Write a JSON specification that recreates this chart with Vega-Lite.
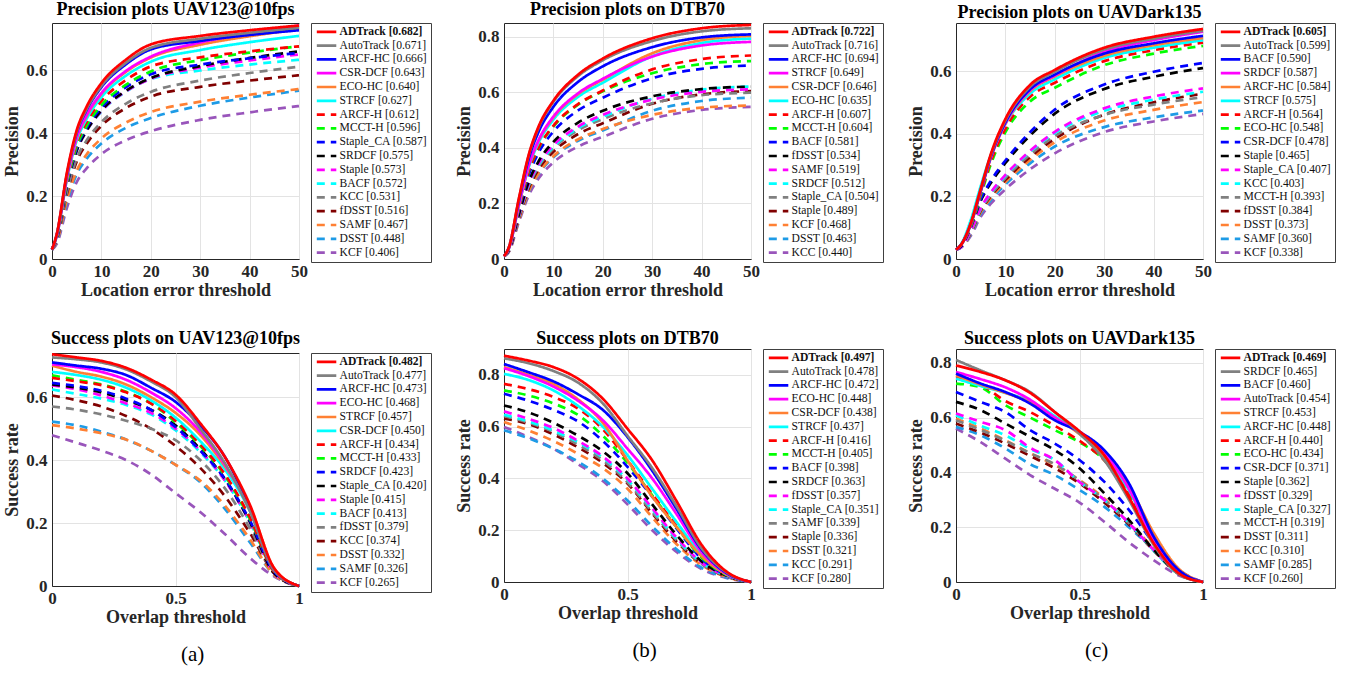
{
"$schema":"https://vega.github.io/schema/vega-lite/v6.json",
"background":"white",
"padding":{"left":3,"top":0,"right":2,"bottom":2},
"datasets":{
"n1":[{"k":1,"n":"ADTrack [0.682]"},{"k":2,"n":"AutoTrack [0.671]"},{"k":3,"n":"ARCF-HC [0.666]"},{"k":4,"n":"CSR-DCF [0.643]"},{"k":5,"n":"ECO-HC [0.640]"},{"k":6,"n":"STRCF [0.627]"},{"k":7,"n":"ARCF-H [0.612]"},{"k":8,"n":"MCCT-H [0.596]"},{"k":9,"n":"Staple_CA [0.587]"},{"k":10,"n":"SRDCF [0.575]"},{"k":11,"n":"Staple [0.573]"},{"k":12,"n":"BACF [0.572]"},{"k":13,"n":"KCC [0.531]"},{"k":14,"n":"fDSST [0.516]"},{"k":15,"n":"SAMF [0.467]"},{"k":16,"n":"DSST [0.448]"},{"k":17,"n":"KCF [0.406]"}],
"n2":[{"k":1,"n":"ADTrack [0.722]"},{"k":2,"n":"AutoTrack [0.716]"},{"k":3,"n":"ARCF-HC [0.694]"},{"k":4,"n":"STRCF [0.649]"},{"k":5,"n":"CSR-DCF [0.646]"},{"k":6,"n":"ECO-HC [0.635]"},{"k":7,"n":"ARCF-H [0.607]"},{"k":8,"n":"MCCT-H [0.604]"},{"k":9,"n":"BACF [0.581]"},{"k":10,"n":"fDSST [0.534]"},{"k":11,"n":"SAMF [0.519]"},{"k":12,"n":"SRDCF [0.512]"},{"k":13,"n":"Staple_CA [0.504]"},{"k":14,"n":"Staple [0.489]"},{"k":15,"n":"KCF [0.468]"},{"k":16,"n":"DSST [0.463]"},{"k":17,"n":"KCC [0.440]"}],
"n3":[{"k":1,"n":"ADTrack [0.605]"},{"k":2,"n":"AutoTrack [0.599]"},{"k":3,"n":"BACF [0.590]"},{"k":4,"n":"SRDCF [0.587]"},{"k":5,"n":"ARCF-HC [0.584]"},{"k":6,"n":"STRCF [0.575]"},{"k":7,"n":"ARCF-H [0.564]"},{"k":8,"n":"ECO-HC [0.548]"},{"k":9,"n":"CSR-DCF [0.478]"},{"k":10,"n":"Staple [0.465]"},{"k":11,"n":"Staple_CA [0.407]"},{"k":12,"n":"KCC [0.403]"},{"k":13,"n":"MCCT-H [0.393]"},{"k":14,"n":"fDSST [0.384]"},{"k":15,"n":"DSST [0.373]"},{"k":16,"n":"SAMF [0.360]"},{"k":17,"n":"KCF [0.338]"}],
"n4":[{"k":1,"n":"ADTrack [0.482]"},{"k":2,"n":"AutoTrack [0.477]"},{"k":3,"n":"ARCF-HC [0.473]"},{"k":4,"n":"ECO-HC [0.468]"},{"k":5,"n":"STRCF [0.457]"},{"k":6,"n":"CSR-DCF [0.450]"},{"k":7,"n":"ARCF-H [0.434]"},{"k":8,"n":"MCCT-H [0.433]"},{"k":9,"n":"SRDCF [0.423]"},{"k":10,"n":"Staple_CA [0.420]"},{"k":11,"n":"Staple [0.415]"},{"k":12,"n":"BACF [0.413]"},{"k":13,"n":"fDSST [0.379]"},{"k":14,"n":"KCC [0.374]"},{"k":15,"n":"DSST [0.332]"},{"k":16,"n":"SAMF [0.326]"},{"k":17,"n":"KCF [0.265]"}],
"n5":[{"k":1,"n":"ADTrack [0.497]"},{"k":2,"n":"AutoTrack [0.478]"},{"k":3,"n":"ARCF-HC [0.472]"},{"k":4,"n":"ECO-HC [0.448]"},{"k":5,"n":"CSR-DCF [0.438]"},{"k":6,"n":"STRCF [0.437]"},{"k":7,"n":"ARCF-H [0.416]"},{"k":8,"n":"MCCT-H [0.405]"},{"k":9,"n":"BACF [0.398]"},{"k":10,"n":"SRDCF [0.363]"},{"k":11,"n":"fDSST [0.357]"},{"k":12,"n":"Staple_CA [0.351]"},{"k":13,"n":"SAMF [0.339]"},{"k":14,"n":"Staple [0.336]"},{"k":15,"n":"DSST [0.321]"},{"k":16,"n":"KCC [0.291]"},{"k":17,"n":"KCF [0.280]"}],
"n6":[{"k":1,"n":"ADTrack [0.469]"},{"k":2,"n":"SRDCF [0.465]"},{"k":3,"n":"BACF [0.460]"},{"k":4,"n":"AutoTrack [0.454]"},{"k":5,"n":"STRCF [0.453]"},{"k":6,"n":"ARCF-HC [0.448]"},{"k":7,"n":"ARCF-H [0.440]"},{"k":8,"n":"ECO-HC [0.434]"},{"k":9,"n":"CSR-DCF [0.371]"},{"k":10,"n":"Staple [0.362]"},{"k":11,"n":"fDSST [0.329]"},{"k":12,"n":"Staple_CA [0.327]"},{"k":13,"n":"MCCT-H [0.319]"},{"k":14,"n":"DSST [0.311]"},{"k":15,"n":"KCC [0.310]"},{"k":16,"n":"SAMF [0.285]"},{"k":17,"n":"KCF [0.260]"}],
"d1":[
{"k":17,"x":0,"y":0.03},{"k":17,"x":1,"y":0.049},{"k":17,"x":3,"y":0.162},{"k":17,"x":5,"y":0.244},{"k":17,"x":7,"y":0.288},{"k":17,"x":10,"y":0.333},{"k":17,"x":15,"y":0.378},{"k":17,"x":20,"y":0.406},{"k":17,"x":30,"y":0.442},{"k":17,"x":40,"y":0.466},{"k":17,"x":50,"y":0.486},
{"k":16,"x":0,"y":0.03},{"k":16,"x":1,"y":0.054},{"k":16,"x":3,"y":0.179},{"k":16,"x":5,"y":0.269},{"k":16,"x":7,"y":0.318},{"k":16,"x":10,"y":0.367},{"k":16,"x":15,"y":0.417},{"k":16,"x":20,"y":0.448},{"k":16,"x":30,"y":0.487},{"k":16,"x":40,"y":0.513},{"k":16,"x":50,"y":0.535},
{"k":15,"x":0,"y":0.03},{"k":15,"x":1,"y":0.056},{"k":15,"x":3,"y":0.187},{"k":15,"x":5,"y":0.28},{"k":15,"x":7,"y":0.332},{"k":15,"x":10,"y":0.383},{"k":15,"x":15,"y":0.434},{"k":15,"x":20,"y":0.467},{"k":15,"x":30,"y":0.5},{"k":15,"x":40,"y":0.522},{"k":15,"x":50,"y":0.54},
{"k":14,"x":0,"y":0.03},{"k":14,"x":1,"y":0.062},{"k":14,"x":3,"y":0.206},{"k":14,"x":5,"y":0.31},{"k":14,"x":7,"y":0.366},{"k":14,"x":10,"y":0.423},{"k":14,"x":15,"y":0.48},{"k":14,"x":20,"y":0.516},{"k":14,"x":30,"y":0.547},{"k":14,"x":40,"y":0.567},{"k":14,"x":50,"y":0.584},
{"k":13,"x":0,"y":0.03},{"k":13,"x":1,"y":0.064},{"k":13,"x":3,"y":0.212},{"k":13,"x":5,"y":0.319},{"k":13,"x":7,"y":0.377},{"k":13,"x":10,"y":0.435},{"k":13,"x":15,"y":0.494},{"k":13,"x":20,"y":0.531},{"k":13,"x":30,"y":0.567},{"k":13,"x":40,"y":0.591},{"k":13,"x":50,"y":0.611},
{"k":12,"x":0,"y":0.03},{"k":12,"x":1,"y":0.069},{"k":12,"x":3,"y":0.229},{"k":12,"x":5,"y":0.343},{"k":12,"x":7,"y":0.406},{"k":12,"x":10,"y":0.469},{"k":12,"x":15,"y":0.532},{"k":12,"x":20,"y":0.572},{"k":12,"x":30,"y":0.599},{"k":12,"x":40,"y":0.618},{"k":12,"x":50,"y":0.633},
{"k":11,"x":0,"y":0.03},{"k":11,"x":1,"y":0.069},{"k":11,"x":3,"y":0.229},{"k":11,"x":5,"y":0.344},{"k":11,"x":7,"y":0.407},{"k":11,"x":10,"y":0.47},{"k":11,"x":15,"y":0.533},{"k":11,"x":20,"y":0.573},{"k":11,"x":30,"y":0.608},{"k":11,"x":40,"y":0.631},{"k":11,"x":50,"y":0.65},
{"k":10,"x":0,"y":0.03},{"k":10,"x":1,"y":0.069},{"k":10,"x":3,"y":0.23},{"k":10,"x":5,"y":0.345},{"k":10,"x":7,"y":0.408},{"k":10,"x":10,"y":0.472},{"k":10,"x":15,"y":0.535},{"k":10,"x":20,"y":0.575},{"k":10,"x":30,"y":0.613},{"k":10,"x":40,"y":0.639},{"k":10,"x":50,"y":0.66},
{"k":9,"x":0,"y":0.03},{"k":9,"x":1,"y":0.07},{"k":9,"x":3,"y":0.235},{"k":9,"x":5,"y":0.352},{"k":9,"x":7,"y":0.417},{"k":9,"x":10,"y":0.481},{"k":9,"x":15,"y":0.546},{"k":9,"x":20,"y":0.587},{"k":9,"x":30,"y":0.618},{"k":9,"x":40,"y":0.638},{"k":9,"x":50,"y":0.655},
{"k":8,"x":0,"y":0.03},{"k":8,"x":1,"y":0.072},{"k":8,"x":3,"y":0.238},{"k":8,"x":5,"y":0.358},{"k":8,"x":7,"y":0.423},{"k":8,"x":10,"y":0.489},{"k":8,"x":15,"y":0.554},{"k":8,"x":20,"y":0.596},{"k":8,"x":30,"y":0.632},{"k":8,"x":40,"y":0.656},{"k":8,"x":50,"y":0.676},
{"k":7,"x":0,"y":0.03},{"k":7,"x":1,"y":0.073},{"k":7,"x":3,"y":0.245},{"k":7,"x":5,"y":0.367},{"k":7,"x":7,"y":0.435},{"k":7,"x":10,"y":0.502},{"k":7,"x":15,"y":0.569},{"k":7,"x":20,"y":0.612},{"k":7,"x":30,"y":0.641},{"k":7,"x":40,"y":0.66},{"k":7,"x":50,"y":0.676},
{"k":6,"x":0,"y":0.03},{"k":6,"x":1,"y":0.075},{"k":6,"x":3,"y":0.251},{"k":6,"x":5,"y":0.376},{"k":6,"x":7,"y":0.445},{"k":6,"x":10,"y":0.514},{"k":6,"x":15,"y":0.583},{"k":6,"x":20,"y":0.627},{"k":6,"x":30,"y":0.664},{"k":6,"x":40,"y":0.689},{"k":6,"x":50,"y":0.709},
{"k":5,"x":0,"y":0.03},{"k":5,"x":1,"y":0.077},{"k":5,"x":3,"y":0.256},{"k":5,"x":5,"y":0.384},{"k":5,"x":7,"y":0.454},{"k":5,"x":10,"y":0.525},{"k":5,"x":15,"y":0.595},{"k":5,"x":20,"y":0.64},{"k":5,"x":30,"y":0.681},{"k":5,"x":40,"y":0.708},{"k":5,"x":50,"y":0.73},
{"k":4,"x":0,"y":0.03},{"k":4,"x":1,"y":0.077},{"k":4,"x":3,"y":0.257},{"k":4,"x":5,"y":0.386},{"k":4,"x":7,"y":0.457},{"k":4,"x":10,"y":0.527},{"k":4,"x":15,"y":0.598},{"k":4,"x":20,"y":0.643},{"k":4,"x":30,"y":0.688},{"k":4,"x":40,"y":0.717},{"k":4,"x":50,"y":0.742},
{"k":3,"x":0,"y":0.03},{"k":3,"x":1,"y":0.08},{"k":3,"x":3,"y":0.266},{"k":3,"x":5,"y":0.4},{"k":3,"x":7,"y":0.473},{"k":3,"x":10,"y":0.546},{"k":3,"x":15,"y":0.619},{"k":3,"x":20,"y":0.666},{"k":3,"x":30,"y":0.693},{"k":3,"x":40,"y":0.712},{"k":3,"x":50,"y":0.727},
{"k":2,"x":0,"y":0.03},{"k":2,"x":1,"y":0.081},{"k":2,"x":3,"y":0.268},{"k":2,"x":5,"y":0.403},{"k":2,"x":7,"y":0.476},{"k":2,"x":10,"y":0.55},{"k":2,"x":15,"y":0.624},{"k":2,"x":20,"y":0.671},{"k":2,"x":30,"y":0.7},{"k":2,"x":40,"y":0.719},{"k":2,"x":50,"y":0.735},
{"k":1,"x":0,"y":0.03},{"k":1,"x":1,"y":0.082},{"k":1,"x":3,"y":0.273},{"k":1,"x":5,"y":0.409},{"k":1,"x":7,"y":0.484},{"k":1,"x":10,"y":0.559},{"k":1,"x":15,"y":0.634},{"k":1,"x":20,"y":0.682},{"k":1,"x":30,"y":0.709},{"k":1,"x":40,"y":0.727},{"k":1,"x":50,"y":0.742}
],
"d2":[
{"k":17,"x":0,"y":0.01},{"k":17,"x":1,"y":0.026},{"k":17,"x":3,"y":0.132},{"k":17,"x":5,"y":0.229},{"k":17,"x":7,"y":0.29},{"k":17,"x":10,"y":0.348},{"k":17,"x":15,"y":0.405},{"k":17,"x":20,"y":0.44},{"k":17,"x":30,"y":0.505},{"k":17,"x":40,"y":0.537},{"k":17,"x":50,"y":0.548},
{"k":16,"x":0,"y":0.01},{"k":16,"x":1,"y":0.028},{"k":16,"x":3,"y":0.139},{"k":16,"x":5,"y":0.241},{"k":16,"x":7,"y":0.306},{"k":16,"x":10,"y":0.366},{"k":16,"x":15,"y":0.426},{"k":16,"x":20,"y":0.463},{"k":16,"x":30,"y":0.534},{"k":16,"x":40,"y":0.569},{"k":16,"x":50,"y":0.581},
{"k":15,"x":0,"y":0.01},{"k":15,"x":1,"y":0.028},{"k":15,"x":3,"y":0.14},{"k":15,"x":5,"y":0.243},{"k":15,"x":7,"y":0.309},{"k":15,"x":10,"y":0.37},{"k":15,"x":15,"y":0.431},{"k":15,"x":20,"y":0.468},{"k":15,"x":30,"y":0.519},{"k":15,"x":40,"y":0.545},{"k":15,"x":50,"y":0.553},
{"k":14,"x":0,"y":0.01},{"k":14,"x":1,"y":0.029},{"k":14,"x":3,"y":0.147},{"k":14,"x":5,"y":0.254},{"k":14,"x":7,"y":0.323},{"k":14,"x":10,"y":0.386},{"k":14,"x":15,"y":0.45},{"k":14,"x":20,"y":0.489},{"k":14,"x":30,"y":0.559},{"k":14,"x":40,"y":0.593},{"k":14,"x":50,"y":0.605},
{"k":13,"x":0,"y":0.01},{"k":13,"x":1,"y":0.03},{"k":13,"x":3,"y":0.151},{"k":13,"x":5,"y":0.262},{"k":13,"x":7,"y":0.333},{"k":13,"x":10,"y":0.398},{"k":13,"x":15,"y":0.464},{"k":13,"x":20,"y":0.504},{"k":13,"x":30,"y":0.561},{"k":13,"x":40,"y":0.59},{"k":13,"x":50,"y":0.599},
{"k":12,"x":0,"y":0.01},{"k":12,"x":1,"y":0.031},{"k":12,"x":3,"y":0.154},{"k":12,"x":5,"y":0.266},{"k":12,"x":7,"y":0.338},{"k":12,"x":10,"y":0.404},{"k":12,"x":15,"y":0.471},{"k":12,"x":20,"y":0.512},{"k":12,"x":30,"y":0.577},{"k":12,"x":40,"y":0.61},{"k":12,"x":50,"y":0.621},
{"k":11,"x":0,"y":0.01},{"k":11,"x":1,"y":0.031},{"k":11,"x":3,"y":0.156},{"k":11,"x":5,"y":0.27},{"k":11,"x":7,"y":0.343},{"k":11,"x":10,"y":0.41},{"k":11,"x":15,"y":0.477},{"k":11,"x":20,"y":0.519},{"k":11,"x":30,"y":0.574},{"k":11,"x":40,"y":0.602},{"k":11,"x":50,"y":0.611},
{"k":10,"x":0,"y":0.01},{"k":10,"x":1,"y":0.032},{"k":10,"x":3,"y":0.16},{"k":10,"x":5,"y":0.278},{"k":10,"x":7,"y":0.352},{"k":10,"x":10,"y":0.422},{"k":10,"x":15,"y":0.491},{"k":10,"x":20,"y":0.534},{"k":10,"x":30,"y":0.586},{"k":10,"x":40,"y":0.612},{"k":10,"x":50,"y":0.621},
{"k":9,"x":0,"y":0.01},{"k":9,"x":1,"y":0.035},{"k":9,"x":3,"y":0.174},{"k":9,"x":5,"y":0.302},{"k":9,"x":7,"y":0.383},{"k":9,"x":10,"y":0.459},{"k":9,"x":15,"y":0.535},{"k":9,"x":20,"y":0.581},{"k":9,"x":30,"y":0.651},{"k":9,"x":40,"y":0.685},{"k":9,"x":50,"y":0.697},
{"k":8,"x":0,"y":0.01},{"k":8,"x":1,"y":0.036},{"k":8,"x":3,"y":0.181},{"k":8,"x":5,"y":0.314},{"k":8,"x":7,"y":0.399},{"k":8,"x":10,"y":0.477},{"k":8,"x":15,"y":0.556},{"k":8,"x":20,"y":0.604},{"k":8,"x":30,"y":0.669},{"k":8,"x":40,"y":0.702},{"k":8,"x":50,"y":0.713},
{"k":7,"x":0,"y":0.01},{"k":7,"x":1,"y":0.036},{"k":7,"x":3,"y":0.182},{"k":7,"x":5,"y":0.316},{"k":7,"x":7,"y":0.401},{"k":7,"x":10,"y":0.48},{"k":7,"x":15,"y":0.558},{"k":7,"x":20,"y":0.607},{"k":7,"x":30,"y":0.683},{"k":7,"x":40,"y":0.72},{"k":7,"x":50,"y":0.733},
{"k":6,"x":0,"y":0.01},{"k":6,"x":1,"y":0.038},{"k":6,"x":3,"y":0.191},{"k":6,"x":5,"y":0.33},{"k":6,"x":7,"y":0.419},{"k":6,"x":10,"y":0.502},{"k":6,"x":15,"y":0.584},{"k":6,"x":20,"y":0.635},{"k":6,"x":30,"y":0.73},{"k":6,"x":40,"y":0.778},{"k":6,"x":50,"y":0.794},
{"k":5,"x":0,"y":0.01},{"k":5,"x":1,"y":0.039},{"k":5,"x":3,"y":0.194},{"k":5,"x":5,"y":0.336},{"k":5,"x":7,"y":0.426},{"k":5,"x":10,"y":0.51},{"k":5,"x":15,"y":0.594},{"k":5,"x":20,"y":0.646},{"k":5,"x":30,"y":0.741},{"k":5,"x":40,"y":0.788},{"k":5,"x":50,"y":0.804},
{"k":4,"x":0,"y":0.01},{"k":4,"x":1,"y":0.039},{"k":4,"x":3,"y":0.195},{"k":4,"x":5,"y":0.337},{"k":4,"x":7,"y":0.428},{"k":4,"x":10,"y":0.513},{"k":4,"x":15,"y":0.597},{"k":4,"x":20,"y":0.649},{"k":4,"x":30,"y":0.729},{"k":4,"x":40,"y":0.769},{"k":4,"x":50,"y":0.782},
{"k":3,"x":0,"y":0.01},{"k":3,"x":1,"y":0.042},{"k":3,"x":3,"y":0.208},{"k":3,"x":5,"y":0.361},{"k":3,"x":7,"y":0.458},{"k":3,"x":10,"y":0.548},{"k":3,"x":15,"y":0.638},{"k":3,"x":20,"y":0.694},{"k":3,"x":30,"y":0.763},{"k":3,"x":40,"y":0.798},{"k":3,"x":50,"y":0.809},
{"k":2,"x":0,"y":0.01},{"k":2,"x":1,"y":0.043},{"k":2,"x":3,"y":0.215},{"k":2,"x":5,"y":0.372},{"k":2,"x":7,"y":0.473},{"k":2,"x":10,"y":0.566},{"k":2,"x":15,"y":0.659},{"k":2,"x":20,"y":0.716},{"k":2,"x":30,"y":0.785},{"k":2,"x":40,"y":0.82},{"k":2,"x":50,"y":0.831},
{"k":1,"x":0,"y":0.01},{"k":1,"x":1,"y":0.043},{"k":1,"x":3,"y":0.217},{"k":1,"x":5,"y":0.375},{"k":1,"x":7,"y":0.477},{"k":1,"x":10,"y":0.57},{"k":1,"x":15,"y":0.664},{"k":1,"x":20,"y":0.722},{"k":1,"x":30,"y":0.795},{"k":1,"x":40,"y":0.831},{"k":1,"x":50,"y":0.843}
],
"d3":[
{"k":17,"x":0,"y":0.03},{"k":17,"x":1,"y":0.037},{"k":17,"x":3,"y":0.074},{"k":17,"x":5,"y":0.135},{"k":17,"x":7,"y":0.176},{"k":17,"x":10,"y":0.223},{"k":17,"x":15,"y":0.287},{"k":17,"x":20,"y":0.338},{"k":17,"x":30,"y":0.406},{"k":17,"x":40,"y":0.44},{"k":17,"x":50,"y":0.464},
{"k":16,"x":0,"y":0.03},{"k":16,"x":1,"y":0.037},{"k":16,"x":3,"y":0.079},{"k":16,"x":5,"y":0.144},{"k":16,"x":7,"y":0.187},{"k":16,"x":10,"y":0.238},{"k":16,"x":15,"y":0.306},{"k":16,"x":20,"y":0.36},{"k":16,"x":30,"y":0.422},{"k":16,"x":40,"y":0.453},{"k":16,"x":50,"y":0.475},
{"k":15,"x":0,"y":0.03},{"k":15,"x":1,"y":0.037},{"k":15,"x":3,"y":0.082},{"k":15,"x":5,"y":0.149},{"k":15,"x":7,"y":0.194},{"k":15,"x":10,"y":0.246},{"k":15,"x":15,"y":0.317},{"k":15,"x":20,"y":0.373},{"k":15,"x":30,"y":0.443},{"k":15,"x":40,"y":0.477},{"k":15,"x":50,"y":0.502},
{"k":14,"x":0,"y":0.03},{"k":14,"x":1,"y":0.037},{"k":14,"x":3,"y":0.084},{"k":14,"x":5,"y":0.154},{"k":14,"x":7,"y":0.2},{"k":14,"x":10,"y":0.253},{"k":14,"x":15,"y":0.326},{"k":14,"x":20,"y":0.384},{"k":14,"x":30,"y":0.462},{"k":14,"x":40,"y":0.501},{"k":14,"x":50,"y":0.529},
{"k":13,"x":0,"y":0.03},{"k":13,"x":1,"y":0.037},{"k":13,"x":3,"y":0.086},{"k":13,"x":5,"y":0.157},{"k":13,"x":7,"y":0.204},{"k":13,"x":10,"y":0.259},{"k":13,"x":15,"y":0.334},{"k":13,"x":20,"y":0.393},{"k":13,"x":30,"y":0.461},{"k":13,"x":40,"y":0.494},{"k":13,"x":50,"y":0.518},
{"k":12,"x":0,"y":0.03},{"k":12,"x":1,"y":0.037},{"k":12,"x":3,"y":0.089},{"k":12,"x":5,"y":0.161},{"k":12,"x":7,"y":0.21},{"k":12,"x":10,"y":0.266},{"k":12,"x":15,"y":0.343},{"k":12,"x":20,"y":0.403},{"k":12,"x":30,"y":0.474},{"k":12,"x":40,"y":0.51},{"k":12,"x":50,"y":0.535},
{"k":11,"x":0,"y":0.03},{"k":11,"x":1,"y":0.037},{"k":11,"x":3,"y":0.09},{"k":11,"x":5,"y":0.163},{"k":11,"x":7,"y":0.212},{"k":11,"x":10,"y":0.269},{"k":11,"x":15,"y":0.346},{"k":11,"x":20,"y":0.407},{"k":11,"x":30,"y":0.482},{"k":11,"x":40,"y":0.52},{"k":11,"x":50,"y":0.546},
{"k":10,"x":0,"y":0.03},{"k":10,"x":1,"y":0.04},{"k":10,"x":3,"y":0.102},{"k":10,"x":5,"y":0.186},{"k":10,"x":7,"y":0.242},{"k":10,"x":10,"y":0.307},{"k":10,"x":15,"y":0.395},{"k":10,"x":20,"y":0.465},{"k":10,"x":30,"y":0.544},{"k":10,"x":40,"y":0.583},{"k":10,"x":50,"y":0.611},
{"k":9,"x":0,"y":0.03},{"k":9,"x":1,"y":0.041},{"k":9,"x":3,"y":0.105},{"k":9,"x":5,"y":0.191},{"k":9,"x":7,"y":0.249},{"k":9,"x":10,"y":0.315},{"k":9,"x":15,"y":0.406},{"k":9,"x":20,"y":0.478},{"k":9,"x":30,"y":0.558},{"k":9,"x":40,"y":0.599},{"k":9,"x":50,"y":0.627},
{"k":8,"x":0,"y":0.03},{"k":8,"x":1,"y":0.044},{"k":8,"x":3,"y":0.104},{"k":8,"x":5,"y":0.203},{"k":8,"x":7,"y":0.301},{"k":8,"x":10,"y":0.406},{"k":8,"x":15,"y":0.504},{"k":8,"x":20,"y":0.548},{"k":8,"x":30,"y":0.62},{"k":8,"x":40,"y":0.657},{"k":8,"x":50,"y":0.682},
{"k":7,"x":0,"y":0.03},{"k":7,"x":1,"y":0.044},{"k":7,"x":3,"y":0.107},{"k":7,"x":5,"y":0.209},{"k":7,"x":7,"y":0.31},{"k":7,"x":10,"y":0.417},{"k":7,"x":15,"y":0.519},{"k":7,"x":20,"y":0.564},{"k":7,"x":30,"y":0.633},{"k":7,"x":40,"y":0.668},{"k":7,"x":50,"y":0.692},
{"k":6,"x":0,"y":0.03},{"k":6,"x":1,"y":0.047},{"k":6,"x":3,"y":0.125},{"k":6,"x":5,"y":0.233},{"k":6,"x":7,"y":0.33},{"k":6,"x":10,"y":0.432},{"k":6,"x":15,"y":0.529},{"k":6,"x":20,"y":0.575},{"k":6,"x":30,"y":0.643},{"k":6,"x":40,"y":0.676},{"k":6,"x":50,"y":0.7},
{"k":5,"x":0,"y":0.03},{"k":5,"x":1,"y":0.045},{"k":5,"x":3,"y":0.111},{"k":5,"x":5,"y":0.216},{"k":5,"x":7,"y":0.321},{"k":5,"x":10,"y":0.432},{"k":5,"x":15,"y":0.537},{"k":5,"x":20,"y":0.584},{"k":5,"x":30,"y":0.65},{"k":5,"x":40,"y":0.684},{"k":5,"x":50,"y":0.707},
{"k":4,"x":0,"y":0.03},{"k":4,"x":1,"y":0.045},{"k":4,"x":3,"y":0.112},{"k":4,"x":5,"y":0.217},{"k":4,"x":7,"y":0.323},{"k":4,"x":10,"y":0.434},{"k":4,"x":15,"y":0.54},{"k":4,"x":20,"y":0.587},{"k":4,"x":30,"y":0.663},{"k":4,"x":40,"y":0.7},{"k":4,"x":50,"y":0.727},
{"k":3,"x":0,"y":0.03},{"k":3,"x":1,"y":0.045},{"k":3,"x":3,"y":0.112},{"k":3,"x":5,"y":0.218},{"k":3,"x":7,"y":0.325},{"k":3,"x":10,"y":0.437},{"k":3,"x":15,"y":0.543},{"k":3,"x":20,"y":0.59},{"k":3,"x":30,"y":0.657},{"k":3,"x":40,"y":0.69},{"k":3,"x":50,"y":0.714},
{"k":2,"x":0,"y":0.03},{"k":2,"x":1,"y":0.045},{"k":2,"x":3,"y":0.114},{"k":2,"x":5,"y":0.222},{"k":2,"x":7,"y":0.329},{"k":2,"x":10,"y":0.443},{"k":2,"x":15,"y":0.551},{"k":2,"x":20,"y":0.599},{"k":2,"x":30,"y":0.67},{"k":2,"x":40,"y":0.705},{"k":2,"x":50,"y":0.73},
{"k":1,"x":0,"y":0.03},{"k":1,"x":1,"y":0.045},{"k":1,"x":3,"y":0.115},{"k":1,"x":5,"y":0.224},{"k":1,"x":7,"y":0.333},{"k":1,"x":10,"y":0.448},{"k":1,"x":15,"y":0.557},{"k":1,"x":20,"y":0.605},{"k":1,"x":30,"y":0.676},{"k":1,"x":40,"y":0.711},{"k":1,"x":50,"y":0.736}
],
"d4":[
{"k":17,"x":0,"y":0.479},{"k":17,"x":0.1,"y":0.455},{"k":17,"x":0.2,"y":0.43},{"k":17,"x":0.3,"y":0.4},{"k":17,"x":0.4,"y":0.355},{"k":17,"x":0.5,"y":0.295},{"k":17,"x":0.6,"y":0.235},{"k":17,"x":0.7,"y":0.165},{"k":17,"x":0.8,"y":0.09},{"k":17,"x":0.9,"y":0.03},{"k":17,"x":1,"y":0},
{"k":16,"x":0,"y":0.522},{"k":16,"x":0.1,"y":0.51},{"k":16,"x":0.2,"y":0.49},{"k":16,"x":0.3,"y":0.465},{"k":16,"x":0.4,"y":0.43},{"k":16,"x":0.5,"y":0.385},{"k":16,"x":0.6,"y":0.33},{"k":16,"x":0.7,"y":0.245},{"k":16,"x":0.8,"y":0.14},{"k":16,"x":0.9,"y":0.035},{"k":16,"x":1,"y":0},
{"k":15,"x":0,"y":0.511},{"k":15,"x":0.1,"y":0.5},{"k":15,"x":0.2,"y":0.485},{"k":15,"x":0.3,"y":0.465},{"k":15,"x":0.4,"y":0.43},{"k":15,"x":0.5,"y":0.385},{"k":15,"x":0.6,"y":0.335},{"k":15,"x":0.7,"y":0.255},{"k":15,"x":0.8,"y":0.15},{"k":15,"x":0.9,"y":0.035},{"k":15,"x":1,"y":0},
{"k":14,"x":0,"y":0.605},{"k":14,"x":0.1,"y":0.59},{"k":14,"x":0.2,"y":0.57},{"k":14,"x":0.3,"y":0.54},{"k":14,"x":0.4,"y":0.5},{"k":14,"x":0.5,"y":0.445},{"k":14,"x":0.6,"y":0.375},{"k":14,"x":0.7,"y":0.285},{"k":14,"x":0.8,"y":0.17},{"k":14,"x":0.9,"y":0.04},{"k":14,"x":1,"y":0},
{"k":13,"x":0,"y":0.57},{"k":13,"x":0.1,"y":0.56},{"k":13,"x":0.2,"y":0.545},{"k":13,"x":0.3,"y":0.525},{"k":13,"x":0.4,"y":0.5},{"k":13,"x":0.5,"y":0.463},{"k":13,"x":0.6,"y":0.4},{"k":13,"x":0.7,"y":0.31},{"k":13,"x":0.8,"y":0.185},{"k":13,"x":0.9,"y":0.04},{"k":13,"x":1,"y":0},
{"k":12,"x":0,"y":0.624},{"k":12,"x":0.1,"y":0.61},{"k":12,"x":0.2,"y":0.595},{"k":12,"x":0.3,"y":0.575},{"k":12,"x":0.4,"y":0.545},{"k":12,"x":0.5,"y":0.495},{"k":12,"x":0.6,"y":0.425},{"k":12,"x":0.7,"y":0.335},{"k":12,"x":0.8,"y":0.205},{"k":12,"x":0.9,"y":0.045},{"k":12,"x":1,"y":0},
{"k":11,"x":0,"y":0.637},{"k":11,"x":0.1,"y":0.625},{"k":11,"x":0.2,"y":0.605},{"k":11,"x":0.3,"y":0.58},{"k":11,"x":0.4,"y":0.55},{"k":11,"x":0.5,"y":0.5},{"k":11,"x":0.6,"y":0.43},{"k":11,"x":0.7,"y":0.335},{"k":11,"x":0.8,"y":0.205},{"k":11,"x":0.9,"y":0.04},{"k":11,"x":1,"y":0},
{"k":10,"x":0,"y":0.64},{"k":10,"x":0.1,"y":0.63},{"k":10,"x":0.2,"y":0.615},{"k":10,"x":0.3,"y":0.59},{"k":10,"x":0.4,"y":0.56},{"k":10,"x":0.5,"y":0.51},{"k":10,"x":0.6,"y":0.435},{"k":10,"x":0.7,"y":0.34},{"k":10,"x":0.8,"y":0.205},{"k":10,"x":0.9,"y":0.04},{"k":10,"x":1,"y":0},
{"k":9,"x":0,"y":0.645},{"k":9,"x":0.1,"y":0.635},{"k":9,"x":0.2,"y":0.62},{"k":9,"x":0.3,"y":0.595},{"k":9,"x":0.4,"y":0.56},{"k":9,"x":0.5,"y":0.505},{"k":9,"x":0.6,"y":0.43},{"k":9,"x":0.7,"y":0.34},{"k":9,"x":0.8,"y":0.21},{"k":9,"x":0.9,"y":0.045},{"k":9,"x":1,"y":0},
{"k":8,"x":0,"y":0.669},{"k":8,"x":0.1,"y":0.655},{"k":8,"x":0.2,"y":0.64},{"k":8,"x":0.3,"y":0.617},{"k":8,"x":0.4,"y":0.58},{"k":8,"x":0.5,"y":0.52},{"k":8,"x":0.6,"y":0.445},{"k":8,"x":0.7,"y":0.35},{"k":8,"x":0.8,"y":0.215},{"k":8,"x":0.9,"y":0.045},{"k":8,"x":1,"y":0},
{"k":7,"x":0,"y":0.661},{"k":7,"x":0.1,"y":0.65},{"k":7,"x":0.2,"y":0.638},{"k":7,"x":0.3,"y":0.615},{"k":7,"x":0.4,"y":0.58},{"k":7,"x":0.5,"y":0.525},{"k":7,"x":0.6,"y":0.45},{"k":7,"x":0.7,"y":0.355},{"k":7,"x":0.8,"y":0.22},{"k":7,"x":0.9,"y":0.045},{"k":7,"x":1,"y":0},
{"k":6,"x":0,"y":0.68},{"k":6,"x":0.1,"y":0.67},{"k":6,"x":0.2,"y":0.655},{"k":6,"x":0.3,"y":0.63},{"k":6,"x":0.4,"y":0.59},{"k":6,"x":0.5,"y":0.535},{"k":6,"x":0.6,"y":0.46},{"k":6,"x":0.7,"y":0.37},{"k":6,"x":0.8,"y":0.24},{"k":6,"x":0.9,"y":0.05},{"k":6,"x":1,"y":0},
{"k":5,"x":0,"y":0.7},{"k":5,"x":0.1,"y":0.68},{"k":5,"x":0.2,"y":0.665},{"k":5,"x":0.3,"y":0.64},{"k":5,"x":0.4,"y":0.6},{"k":5,"x":0.5,"y":0.55},{"k":5,"x":0.6,"y":0.48},{"k":5,"x":0.7,"y":0.38},{"k":5,"x":0.8,"y":0.255},{"k":5,"x":0.9,"y":0.055},{"k":5,"x":1,"y":0},
{"k":4,"x":0,"y":0.704},{"k":4,"x":0.1,"y":0.695},{"k":4,"x":0.2,"y":0.68},{"k":4,"x":0.3,"y":0.655},{"k":4,"x":0.4,"y":0.615},{"k":4,"x":0.5,"y":0.565},{"k":4,"x":0.6,"y":0.49},{"k":4,"x":0.7,"y":0.385},{"k":4,"x":0.8,"y":0.245},{"k":4,"x":0.9,"y":0.05},{"k":4,"x":1,"y":0},
{"k":3,"x":0,"y":0.71},{"k":3,"x":0.1,"y":0.7},{"k":3,"x":0.2,"y":0.69},{"k":3,"x":0.3,"y":0.67},{"k":3,"x":0.4,"y":0.63},{"k":3,"x":0.5,"y":0.585},{"k":3,"x":0.6,"y":0.51},{"k":3,"x":0.7,"y":0.41},{"k":3,"x":0.8,"y":0.25},{"k":3,"x":0.9,"y":0.05},{"k":3,"x":1,"y":0},
{"k":2,"x":0,"y":0.726},{"k":2,"x":0.1,"y":0.72},{"k":2,"x":0.2,"y":0.71},{"k":2,"x":0.3,"y":0.688},{"k":2,"x":0.4,"y":0.65},{"k":2,"x":0.5,"y":0.6},{"k":2,"x":0.6,"y":0.5},{"k":2,"x":0.7,"y":0.39},{"k":2,"x":0.8,"y":0.24},{"k":2,"x":0.9,"y":0.05},{"k":2,"x":1,"y":0},
{"k":1,"x":0,"y":0.736},{"k":1,"x":0.1,"y":0.726},{"k":1,"x":0.2,"y":0.715},{"k":1,"x":0.3,"y":0.693},{"k":1,"x":0.4,"y":0.656},{"k":1,"x":0.5,"y":0.608},{"k":1,"x":0.6,"y":0.517},{"k":1,"x":0.7,"y":0.41},{"k":1,"x":0.8,"y":0.26},{"k":1,"x":0.9,"y":0.056},{"k":1,"x":1,"y":0}
],
"d5":[
{"k":17,"x":0,"y":0.599},{"k":17,"x":0.1,"y":0.56},{"k":17,"x":0.2,"y":0.515},{"k":17,"x":0.3,"y":0.455},{"k":17,"x":0.4,"y":0.39},{"k":17,"x":0.5,"y":0.3},{"k":17,"x":0.6,"y":0.2},{"k":17,"x":0.7,"y":0.115},{"k":17,"x":0.8,"y":0.05},{"k":17,"x":0.9,"y":0.016},{"k":17,"x":1,"y":0},
{"k":16,"x":0,"y":0.586},{"k":16,"x":0.1,"y":0.555},{"k":16,"x":0.2,"y":0.515},{"k":16,"x":0.3,"y":0.465},{"k":16,"x":0.4,"y":0.4},{"k":16,"x":0.5,"y":0.315},{"k":16,"x":0.6,"y":0.215},{"k":16,"x":0.7,"y":0.125},{"k":16,"x":0.8,"y":0.055},{"k":16,"x":0.9,"y":0.018},{"k":16,"x":1,"y":0},
{"k":15,"x":0,"y":0.618},{"k":15,"x":0.1,"y":0.585},{"k":15,"x":0.2,"y":0.545},{"k":15,"x":0.3,"y":0.495},{"k":15,"x":0.4,"y":0.44},{"k":15,"x":0.5,"y":0.36},{"k":15,"x":0.6,"y":0.25},{"k":15,"x":0.7,"y":0.145},{"k":15,"x":0.8,"y":0.065},{"k":15,"x":0.9,"y":0.02},{"k":15,"x":1,"y":0},
{"k":14,"x":0,"y":0.631},{"k":14,"x":0.1,"y":0.61},{"k":14,"x":0.2,"y":0.57},{"k":14,"x":0.3,"y":0.52},{"k":14,"x":0.4,"y":0.46},{"k":14,"x":0.5,"y":0.38},{"k":14,"x":0.6,"y":0.265},{"k":14,"x":0.7,"y":0.155},{"k":14,"x":0.8,"y":0.07},{"k":14,"x":0.9,"y":0.022},{"k":14,"x":1,"y":0},
{"k":13,"x":0,"y":0.641},{"k":13,"x":0.1,"y":0.615},{"k":13,"x":0.2,"y":0.58},{"k":13,"x":0.3,"y":0.53},{"k":13,"x":0.4,"y":0.47},{"k":13,"x":0.5,"y":0.385},{"k":13,"x":0.6,"y":0.27},{"k":13,"x":0.7,"y":0.16},{"k":13,"x":0.8,"y":0.07},{"k":13,"x":0.9,"y":0.022},{"k":13,"x":1,"y":0},
{"k":12,"x":0,"y":0.646},{"k":12,"x":0.1,"y":0.62},{"k":12,"x":0.2,"y":0.585},{"k":12,"x":0.3,"y":0.54},{"k":12,"x":0.4,"y":0.48},{"k":12,"x":0.5,"y":0.395},{"k":12,"x":0.6,"y":0.28},{"k":12,"x":0.7,"y":0.165},{"k":12,"x":0.8,"y":0.075},{"k":12,"x":0.9,"y":0.024},{"k":12,"x":1,"y":0},
{"k":11,"x":0,"y":0.659},{"k":11,"x":0.1,"y":0.63},{"k":11,"x":0.2,"y":0.595},{"k":11,"x":0.3,"y":0.545},{"k":11,"x":0.4,"y":0.485},{"k":11,"x":0.5,"y":0.4},{"k":11,"x":0.6,"y":0.285},{"k":11,"x":0.7,"y":0.17},{"k":11,"x":0.8,"y":0.075},{"k":11,"x":0.9,"y":0.024},{"k":11,"x":1,"y":0},
{"k":10,"x":0,"y":0.682},{"k":10,"x":0.1,"y":0.655},{"k":10,"x":0.2,"y":0.615},{"k":10,"x":0.3,"y":0.565},{"k":10,"x":0.4,"y":0.505},{"k":10,"x":0.5,"y":0.42},{"k":10,"x":0.6,"y":0.3},{"k":10,"x":0.7,"y":0.18},{"k":10,"x":0.8,"y":0.08},{"k":10,"x":0.9,"y":0.025},{"k":10,"x":1,"y":0},
{"k":9,"x":0,"y":0.727},{"k":9,"x":0.1,"y":0.7},{"k":9,"x":0.2,"y":0.665},{"k":9,"x":0.3,"y":0.62},{"k":9,"x":0.4,"y":0.545},{"k":9,"x":0.5,"y":0.445},{"k":9,"x":0.6,"y":0.33},{"k":9,"x":0.7,"y":0.205},{"k":9,"x":0.8,"y":0.09},{"k":9,"x":0.9,"y":0.027},{"k":9,"x":1,"y":0},
{"k":8,"x":0,"y":0.74},{"k":8,"x":0.1,"y":0.72},{"k":8,"x":0.2,"y":0.69},{"k":8,"x":0.3,"y":0.645},{"k":8,"x":0.4,"y":0.565},{"k":8,"x":0.5,"y":0.46},{"k":8,"x":0.6,"y":0.335},{"k":8,"x":0.7,"y":0.21},{"k":8,"x":0.8,"y":0.095},{"k":8,"x":0.9,"y":0.028},{"k":8,"x":1,"y":0},
{"k":7,"x":0,"y":0.765},{"k":7,"x":0.1,"y":0.745},{"k":7,"x":0.2,"y":0.715},{"k":7,"x":0.3,"y":0.67},{"k":7,"x":0.4,"y":0.59},{"k":7,"x":0.5,"y":0.47},{"k":7,"x":0.6,"y":0.34},{"k":7,"x":0.7,"y":0.215},{"k":7,"x":0.8,"y":0.1},{"k":7,"x":0.9,"y":0.03},{"k":7,"x":1,"y":0},
{"k":6,"x":0,"y":0.804},{"k":6,"x":0.1,"y":0.78},{"k":6,"x":0.2,"y":0.74},{"k":6,"x":0.3,"y":0.68},{"k":6,"x":0.4,"y":0.6},{"k":6,"x":0.5,"y":0.49},{"k":6,"x":0.6,"y":0.36},{"k":6,"x":0.7,"y":0.23},{"k":6,"x":0.8,"y":0.105},{"k":6,"x":0.9,"y":0.03},{"k":6,"x":1,"y":0},
{"k":5,"x":0,"y":0.83},{"k":5,"x":0.1,"y":0.8},{"k":5,"x":0.2,"y":0.765},{"k":5,"x":0.3,"y":0.705},{"k":5,"x":0.4,"y":0.615},{"k":5,"x":0.5,"y":0.47},{"k":5,"x":0.6,"y":0.33},{"k":5,"x":0.7,"y":0.21},{"k":5,"x":0.8,"y":0.1},{"k":5,"x":0.9,"y":0.03},{"k":5,"x":1,"y":0},
{"k":4,"x":0,"y":0.826},{"k":4,"x":0.1,"y":0.795},{"k":4,"x":0.2,"y":0.755},{"k":4,"x":0.3,"y":0.7},{"k":4,"x":0.4,"y":0.625},{"k":4,"x":0.5,"y":0.515},{"k":4,"x":0.6,"y":0.4},{"k":4,"x":0.7,"y":0.26},{"k":4,"x":0.8,"y":0.115},{"k":4,"x":0.9,"y":0.033},{"k":4,"x":1,"y":0},
{"k":3,"x":0,"y":0.842},{"k":3,"x":0.1,"y":0.81},{"k":3,"x":0.2,"y":0.775},{"k":3,"x":0.3,"y":0.725},{"k":3,"x":0.4,"y":0.665},{"k":3,"x":0.5,"y":0.56},{"k":3,"x":0.6,"y":0.43},{"k":3,"x":0.7,"y":0.28},{"k":3,"x":0.8,"y":0.125},{"k":3,"x":0.9,"y":0.035},{"k":3,"x":1,"y":0},
{"k":2,"x":0,"y":0.864},{"k":2,"x":0.1,"y":0.845},{"k":2,"x":0.2,"y":0.815},{"k":2,"x":0.3,"y":0.77},{"k":2,"x":0.4,"y":0.69},{"k":2,"x":0.5,"y":0.565},{"k":2,"x":0.6,"y":0.44},{"k":2,"x":0.7,"y":0.29},{"k":2,"x":0.8,"y":0.13},{"k":2,"x":0.9,"y":0.038},{"k":2,"x":1,"y":0},
{"k":1,"x":0,"y":0.874},{"k":1,"x":0.1,"y":0.855},{"k":1,"x":0.2,"y":0.83},{"k":1,"x":0.3,"y":0.785},{"k":1,"x":0.4,"y":0.708},{"k":1,"x":0.5,"y":0.592},{"k":1,"x":0.6,"y":0.47},{"k":1,"x":0.7,"y":0.31},{"k":1,"x":0.8,"y":0.144},{"k":1,"x":0.9,"y":0.041},{"k":1,"x":1,"y":0}
],
"d6":[
{"k":17,"x":0,"y":0.56},{"k":17,"x":0.1,"y":0.51},{"k":17,"x":0.2,"y":0.45},{"k":17,"x":0.3,"y":0.39},{"k":17,"x":0.4,"y":0.34},{"k":17,"x":0.5,"y":0.29},{"k":17,"x":0.6,"y":0.22},{"k":17,"x":0.7,"y":0.145},{"k":17,"x":0.8,"y":0.08},{"k":17,"x":0.9,"y":0.025},{"k":17,"x":1,"y":0},
{"k":16,"x":0,"y":0.566},{"k":16,"x":0.1,"y":0.535},{"k":16,"x":0.2,"y":0.487},{"k":16,"x":0.3,"y":0.43},{"k":16,"x":0.4,"y":0.39},{"k":16,"x":0.5,"y":0.336},{"k":16,"x":0.6,"y":0.275},{"k":16,"x":0.7,"y":0.2},{"k":16,"x":0.8,"y":0.118},{"k":16,"x":0.9,"y":0.035},{"k":16,"x":1,"y":0},
{"k":15,"x":0,"y":0.596},{"k":15,"x":0.1,"y":0.56},{"k":15,"x":0.2,"y":0.517},{"k":15,"x":0.3,"y":0.47},{"k":15,"x":0.4,"y":0.427},{"k":15,"x":0.5,"y":0.372},{"k":15,"x":0.6,"y":0.305},{"k":15,"x":0.7,"y":0.215},{"k":15,"x":0.8,"y":0.125},{"k":15,"x":0.9,"y":0.035},{"k":15,"x":1,"y":0},
{"k":14,"x":0,"y":0.578},{"k":14,"x":0.1,"y":0.545},{"k":14,"x":0.2,"y":0.505},{"k":14,"x":0.3,"y":0.46},{"k":14,"x":0.4,"y":0.415},{"k":14,"x":0.5,"y":0.36},{"k":14,"x":0.6,"y":0.29},{"k":14,"x":0.7,"y":0.21},{"k":14,"x":0.8,"y":0.115},{"k":14,"x":0.9,"y":0.03},{"k":14,"x":1,"y":0},
{"k":13,"x":0,"y":0.59},{"k":13,"x":0.1,"y":0.555},{"k":13,"x":0.2,"y":0.515},{"k":13,"x":0.3,"y":0.47},{"k":13,"x":0.4,"y":0.43},{"k":13,"x":0.5,"y":0.37},{"k":13,"x":0.6,"y":0.3},{"k":13,"x":0.7,"y":0.215},{"k":13,"x":0.8,"y":0.115},{"k":13,"x":0.9,"y":0.03},{"k":13,"x":1,"y":0},
{"k":12,"x":0,"y":0.608},{"k":12,"x":0.1,"y":0.57},{"k":12,"x":0.2,"y":0.535},{"k":12,"x":0.3,"y":0.485},{"k":12,"x":0.4,"y":0.445},{"k":12,"x":0.5,"y":0.365},{"k":12,"x":0.6,"y":0.3},{"k":12,"x":0.7,"y":0.215},{"k":12,"x":0.8,"y":0.115},{"k":12,"x":0.9,"y":0.03},{"k":12,"x":1,"y":0},
{"k":11,"x":0,"y":0.615},{"k":11,"x":0.1,"y":0.584},{"k":11,"x":0.2,"y":0.554},{"k":11,"x":0.3,"y":0.49},{"k":11,"x":0.4,"y":0.445},{"k":11,"x":0.5,"y":0.365},{"k":11,"x":0.6,"y":0.3},{"k":11,"x":0.7,"y":0.215},{"k":11,"x":0.8,"y":0.118},{"k":11,"x":0.9,"y":0.035},{"k":11,"x":1,"y":0},
{"k":10,"x":0,"y":0.657},{"k":10,"x":0.1,"y":0.627},{"k":10,"x":0.2,"y":0.578},{"k":10,"x":0.3,"y":0.53},{"k":10,"x":0.4,"y":0.481},{"k":10,"x":0.5,"y":0.415},{"k":10,"x":0.6,"y":0.324},{"k":10,"x":0.7,"y":0.227},{"k":10,"x":0.8,"y":0.118},{"k":10,"x":0.9,"y":0.033},{"k":10,"x":1,"y":0},
{"k":9,"x":0,"y":0.693},{"k":9,"x":0.1,"y":0.657},{"k":9,"x":0.2,"y":0.62},{"k":9,"x":0.3,"y":0.554},{"k":9,"x":0.4,"y":0.505},{"k":9,"x":0.5,"y":0.445},{"k":9,"x":0.6,"y":0.366},{"k":9,"x":0.7,"y":0.263},{"k":9,"x":0.8,"y":0.142},{"k":9,"x":0.9,"y":0.045},{"k":9,"x":1,"y":0},
{"k":8,"x":0,"y":0.724},{"k":8,"x":0.1,"y":0.71},{"k":8,"x":0.2,"y":0.645},{"k":8,"x":0.3,"y":0.6},{"k":8,"x":0.4,"y":0.554},{"k":8,"x":0.5,"y":0.51},{"k":8,"x":0.6,"y":0.445},{"k":8,"x":0.7,"y":0.32},{"k":8,"x":0.8,"y":0.145},{"k":8,"x":0.9,"y":0.033},{"k":8,"x":1,"y":0},
{"k":7,"x":0,"y":0.748},{"k":7,"x":0.1,"y":0.72},{"k":7,"x":0.2,"y":0.66},{"k":7,"x":0.3,"y":0.62},{"k":7,"x":0.4,"y":0.57},{"k":7,"x":0.5,"y":0.515},{"k":7,"x":0.6,"y":0.445},{"k":7,"x":0.7,"y":0.325},{"k":7,"x":0.8,"y":0.15},{"k":7,"x":0.9,"y":0.035},{"k":7,"x":1,"y":0},
{"k":6,"x":0,"y":0.742},{"k":6,"x":0.1,"y":0.715},{"k":6,"x":0.2,"y":0.69},{"k":6,"x":0.3,"y":0.66},{"k":6,"x":0.4,"y":0.605},{"k":6,"x":0.5,"y":0.54},{"k":6,"x":0.6,"y":0.455},{"k":6,"x":0.7,"y":0.335},{"k":6,"x":0.8,"y":0.155},{"k":6,"x":0.9,"y":0.038},{"k":6,"x":1,"y":0},
{"k":5,"x":0,"y":0.754},{"k":5,"x":0.1,"y":0.72},{"k":5,"x":0.2,"y":0.69},{"k":5,"x":0.3,"y":0.655},{"k":5,"x":0.4,"y":0.6},{"k":5,"x":0.5,"y":0.54},{"k":5,"x":0.6,"y":0.46},{"k":5,"x":0.7,"y":0.35},{"k":5,"x":0.8,"y":0.18},{"k":5,"x":0.9,"y":0.05},{"k":5,"x":1,"y":0},
{"k":4,"x":0,"y":0.766},{"k":4,"x":0.1,"y":0.74},{"k":4,"x":0.2,"y":0.71},{"k":4,"x":0.3,"y":0.665},{"k":4,"x":0.4,"y":0.6},{"k":4,"x":0.5,"y":0.545},{"k":4,"x":0.6,"y":0.47},{"k":4,"x":0.7,"y":0.34},{"k":4,"x":0.8,"y":0.155},{"k":4,"x":0.9,"y":0.04},{"k":4,"x":1,"y":0},
{"k":3,"x":0,"y":0.76},{"k":3,"x":0.1,"y":0.724},{"k":3,"x":0.2,"y":0.693},{"k":3,"x":0.3,"y":0.651},{"k":3,"x":0.4,"y":0.59},{"k":3,"x":0.5,"y":0.548},{"k":3,"x":0.6,"y":0.481},{"k":3,"x":0.7,"y":0.36},{"k":3,"x":0.8,"y":0.166},{"k":3,"x":0.9,"y":0.045},{"k":3,"x":1,"y":0},
{"k":2,"x":0,"y":0.81},{"k":2,"x":0.1,"y":0.772},{"k":2,"x":0.2,"y":0.736},{"k":2,"x":0.3,"y":0.693},{"k":2,"x":0.4,"y":0.62},{"k":2,"x":0.5,"y":0.542},{"k":2,"x":0.6,"y":0.445},{"k":2,"x":0.7,"y":0.3},{"k":2,"x":0.8,"y":0.136},{"k":2,"x":0.9,"y":0.03},{"k":2,"x":1,"y":0},
{"k":1,"x":0,"y":0.79},{"k":1,"x":0.1,"y":0.766},{"k":1,"x":0.2,"y":0.736},{"k":1,"x":0.3,"y":0.69},{"k":1,"x":0.4,"y":0.62},{"k":1,"x":0.5,"y":0.55},{"k":1,"x":0.6,"y":0.463},{"k":1,"x":0.7,"y":0.31},{"k":1,"x":0.8,"y":0.142},{"k":1,"x":0.9,"y":0.033},{"k":1,"x":1,"y":0}
]
},
"spacing":23,
"resolve":{"scale":{"color":"independent","strokeDash":"independent"},"legend":{"color":"independent","strokeDash":"independent"}},
"hconcat":[
{"vconcat":[
{"width":247,"height":236,"title":"Precision plots UAV123@10fps","data":{"name":"d1"},
"transform":[{"lookup":"k","from":{"data":{"name":"n1"},"key":"k","fields":["n"]}}],
"mark":{"type":"line","interpolate":"monotone","strokeWidth":2.7},
"encoding":{
"x":{"field":"x","type":"quantitative","scale":{"domain":[0,50],"nice":false},"axis":{"title":"Location error threshold","values":[0,10,20,30,40,50],"format":"d"}},
"y":{"field":"y","type":"quantitative","scale":{"domain":[0,0.75],"nice":false},"axis":{"title":"Precision","values":[0,0.2,0.4,0.6],"format":".1~f"}},
"color":{"field":"n","type":"nominal","sort":{"field":"k","op":"min"},"scale":{"range":["#ff0000","#808080","#0000ff","#ff00ff","#ff8033","#00ffff","#ff0000","#00ff00","#0000ff","#000000","#ff00ff","#00ffff","#808080","#800000","#ff8033","#1e9be6","#9955bb"]},"legend":{"title":null,"orient":"right","offset":6,"labelFontSize":11.6,"labelFont":"Liberation Serif","labelColor":"#111111","rowPadding":0.8,"padding":3,"symbolType":"M-1,0H5.5","symbolSize":36,"symbolStrokeWidth":2.7,"labelOffset":14,"strokeColor":"#404040","fillColor":"white","encode":{"labels":{"update":{"fontWeight":{"signal":"datum.index === 0 ? 'bold' : 'normal'"}}}}}},
"strokeDash":{"field":"n","type":"nominal","sort":{"field":"k","op":"min"},"scale":{"range":[[1,0],[1,0],[1,0],[1,0],[1,0],[1,0],[8,6],[8,6],[8,6],[8,6],[8,6],[8,6],[8,6],[8,6],[8,6],[8,6],[8,6]]},"legend":{"title":null,"orient":"right","offset":6,"labelFontSize":11.6,"labelFont":"Liberation Serif","labelColor":"#111111","rowPadding":0.8,"padding":3,"symbolType":"M-1,0H5.5","symbolSize":36,"symbolStrokeWidth":2.7,"labelOffset":14,"strokeColor":"#404040","fillColor":"white","encode":{"labels":{"update":{"fontWeight":{"signal":"datum.index === 0 ? 'bold' : 'normal'"}}}}}}
}},
{"width":247,"height":233,"title":"Success plots on UAV123@10fps","data":{"name":"d4"},
"transform":[{"lookup":"k","from":{"data":{"name":"n4"},"key":"k","fields":["n"]}}],
"mark":{"type":"line","interpolate":"monotone","strokeWidth":2.7},
"encoding":{
"x":{"field":"x","type":"quantitative","scale":{"domain":[0,1],"nice":false},"axis":{"title":"Overlap threshold","values":[0,0.5,1],"format":".1~f"}},
"y":{"field":"y","type":"quantitative","scale":{"domain":[0,0.74],"nice":false},"axis":{"title":"Success rate","values":[0,0.2,0.4,0.6],"format":".1~f"}},
"color":{"field":"n","type":"nominal","sort":{"field":"k","op":"min"},"scale":{"range":["#ff0000","#808080","#0000ff","#ff00ff","#ff8033","#00ffff","#ff0000","#00ff00","#0000ff","#000000","#ff00ff","#00ffff","#808080","#800000","#ff8033","#1e9be6","#9955bb"]},"legend":{"title":null,"orient":"right","offset":6,"labelFontSize":11.6,"labelFont":"Liberation Serif","labelColor":"#111111","rowPadding":0.8,"padding":3,"symbolType":"M-1,0H5.5","symbolSize":36,"symbolStrokeWidth":2.7,"labelOffset":14,"strokeColor":"#404040","fillColor":"white","encode":{"labels":{"update":{"fontWeight":{"signal":"datum.index === 0 ? 'bold' : 'normal'"}}}}}},
"strokeDash":{"field":"n","type":"nominal","sort":{"field":"k","op":"min"},"scale":{"range":[[1,0],[1,0],[1,0],[1,0],[1,0],[1,0],[8,6],[8,6],[8,6],[8,6],[8,6],[8,6],[8,6],[8,6],[8,6],[8,6],[8,6]]},"legend":{"title":null,"orient":"right","offset":6,"labelFontSize":11.6,"labelFont":"Liberation Serif","labelColor":"#111111","rowPadding":0.8,"padding":3,"symbolType":"M-1,0H5.5","symbolSize":36,"symbolStrokeWidth":2.7,"labelOffset":14,"strokeColor":"#404040","fillColor":"white","encode":{"labels":{"update":{"fontWeight":{"signal":"datum.index === 0 ? 'bold' : 'normal'"}}}}}}
}}
],"spacing":29,
"resolve":{"scale":{"color":"independent","strokeDash":"independent"},"legend":{"color":"independent","strokeDash":"independent"}},
"title":{"text":"(a)","orient":"bottom","fontSize":21,"fontWeight":"normal","anchor":"middle","offset":17,"dx":-25}},
{"vconcat":[
{"width":247,"height":236,"title":"Precision plots on DTB70","data":{"name":"d2"},
"transform":[{"lookup":"k","from":{"data":{"name":"n2"},"key":"k","fields":["n"]}}],
"mark":{"type":"line","interpolate":"monotone","strokeWidth":2.7},
"encoding":{
"x":{"field":"x","type":"quantitative","scale":{"domain":[0,50],"nice":false},"axis":{"title":"Location error threshold","values":[0,10,20,30,40,50],"format":"d"}},
"y":{"field":"y","type":"quantitative","scale":{"domain":[0,0.85],"nice":false},"axis":{"title":"Precision","values":[0,0.2,0.4,0.6,0.8],"format":".1~f"}},
"color":{"field":"n","type":"nominal","sort":{"field":"k","op":"min"},"scale":{"range":["#ff0000","#808080","#0000ff","#ff00ff","#ff8033","#00ffff","#ff0000","#00ff00","#0000ff","#000000","#ff00ff","#00ffff","#808080","#800000","#ff8033","#1e9be6","#9955bb"]},"legend":{"title":null,"orient":"right","offset":6,"labelFontSize":11.6,"labelFont":"Liberation Serif","labelColor":"#111111","rowPadding":0.8,"padding":3,"symbolType":"M-1,0H5.5","symbolSize":36,"symbolStrokeWidth":2.7,"labelOffset":14,"strokeColor":"#404040","fillColor":"white","encode":{"labels":{"update":{"fontWeight":{"signal":"datum.index === 0 ? 'bold' : 'normal'"}}}}}},
"strokeDash":{"field":"n","type":"nominal","sort":{"field":"k","op":"min"},"scale":{"range":[[1,0],[1,0],[1,0],[1,0],[1,0],[1,0],[8,6],[8,6],[8,6],[8,6],[8,6],[8,6],[8,6],[8,6],[8,6],[8,6],[8,6]]},"legend":{"title":null,"orient":"right","offset":6,"labelFontSize":11.6,"labelFont":"Liberation Serif","labelColor":"#111111","rowPadding":0.8,"padding":3,"symbolType":"M-1,0H5.5","symbolSize":36,"symbolStrokeWidth":2.7,"labelOffset":14,"strokeColor":"#404040","fillColor":"white","encode":{"labels":{"update":{"fontWeight":{"signal":"datum.index === 0 ? 'bold' : 'normal'"}}}}}}
}},
{"width":247,"height":233,"title":"Success plots on DTB70","data":{"name":"d5"},
"transform":[{"lookup":"k","from":{"data":{"name":"n5"},"key":"k","fields":["n"]}}],
"mark":{"type":"line","interpolate":"monotone","strokeWidth":2.7},
"encoding":{
"x":{"field":"x","type":"quantitative","scale":{"domain":[0,1],"nice":false},"axis":{"title":"Overlap threshold","values":[0,0.5,1],"format":".1~f"}},
"y":{"field":"y","type":"quantitative","scale":{"domain":[0,0.9],"nice":false},"axis":{"title":"Success rate","values":[0,0.2,0.4,0.6,0.8],"format":".1~f"}},
"color":{"field":"n","type":"nominal","sort":{"field":"k","op":"min"},"scale":{"range":["#ff0000","#808080","#0000ff","#ff00ff","#ff8033","#00ffff","#ff0000","#00ff00","#0000ff","#000000","#ff00ff","#00ffff","#808080","#800000","#ff8033","#1e9be6","#9955bb"]},"legend":{"title":null,"orient":"right","offset":6,"labelFontSize":11.6,"labelFont":"Liberation Serif","labelColor":"#111111","rowPadding":0.8,"padding":3,"symbolType":"M-1,0H5.5","symbolSize":36,"symbolStrokeWidth":2.7,"labelOffset":14,"strokeColor":"#404040","fillColor":"white","encode":{"labels":{"update":{"fontWeight":{"signal":"datum.index === 0 ? 'bold' : 'normal'"}}}}}},
"strokeDash":{"field":"n","type":"nominal","sort":{"field":"k","op":"min"},"scale":{"range":[[1,0],[1,0],[1,0],[1,0],[1,0],[1,0],[8,6],[8,6],[8,6],[8,6],[8,6],[8,6],[8,6],[8,6],[8,6],[8,6],[8,6]]},"legend":{"title":null,"orient":"right","offset":6,"labelFontSize":11.6,"labelFont":"Liberation Serif","labelColor":"#111111","rowPadding":0.8,"padding":3,"symbolType":"M-1,0H5.5","symbolSize":36,"symbolStrokeWidth":2.7,"labelOffset":14,"strokeColor":"#404040","fillColor":"white","encode":{"labels":{"update":{"fontWeight":{"signal":"datum.index === 0 ? 'bold' : 'normal'"}}}}}}
}}
],"spacing":29,
"resolve":{"scale":{"color":"independent","strokeDash":"independent"},"legend":{"color":"independent","strokeDash":"independent"}},
"title":{"text":"(b)","orient":"bottom","fontSize":21,"fontWeight":"normal","anchor":"middle","offset":17,"dx":-25}},
{"vconcat":[
{"width":247,"height":236,"title":"Precision plots on UAVDark135","data":{"name":"d3"},
"transform":[{"lookup":"k","from":{"data":{"name":"n3"},"key":"k","fields":["n"]}}],
"mark":{"type":"line","interpolate":"monotone","strokeWidth":2.7},
"encoding":{
"x":{"field":"x","type":"quantitative","scale":{"domain":[0,50],"nice":false},"axis":{"title":"Location error threshold","values":[0,10,20,30,40,50],"format":"d"}},
"y":{"field":"y","type":"quantitative","scale":{"domain":[0,0.755],"nice":false},"axis":{"title":"Precision","values":[0,0.2,0.4,0.6],"format":".1~f"}},
"color":{"field":"n","type":"nominal","sort":{"field":"k","op":"min"},"scale":{"range":["#ff0000","#808080","#0000ff","#ff00ff","#ff8033","#00ffff","#ff0000","#00ff00","#0000ff","#000000","#ff00ff","#00ffff","#808080","#800000","#ff8033","#1e9be6","#9955bb"]},"legend":{"title":null,"orient":"right","offset":6,"labelFontSize":11.6,"labelFont":"Liberation Serif","labelColor":"#111111","rowPadding":0.8,"padding":3,"symbolType":"M-1,0H5.5","symbolSize":36,"symbolStrokeWidth":2.7,"labelOffset":14,"strokeColor":"#404040","fillColor":"white","encode":{"labels":{"update":{"fontWeight":{"signal":"datum.index === 0 ? 'bold' : 'normal'"}}}}}},
"strokeDash":{"field":"n","type":"nominal","sort":{"field":"k","op":"min"},"scale":{"range":[[1,0],[1,0],[1,0],[1,0],[1,0],[1,0],[8,6],[8,6],[8,6],[8,6],[8,6],[8,6],[8,6],[8,6],[8,6],[8,6],[8,6]]},"legend":{"title":null,"orient":"right","offset":6,"labelFontSize":11.6,"labelFont":"Liberation Serif","labelColor":"#111111","rowPadding":0.8,"padding":3,"symbolType":"M-1,0H5.5","symbolSize":36,"symbolStrokeWidth":2.7,"labelOffset":14,"strokeColor":"#404040","fillColor":"white","encode":{"labels":{"update":{"fontWeight":{"signal":"datum.index === 0 ? 'bold' : 'normal'"}}}}}}
}},
{"width":247,"height":233,"title":"Success plots on UAVDark135","data":{"name":"d6"},
"transform":[{"lookup":"k","from":{"data":{"name":"n6"},"key":"k","fields":["n"]}}],
"mark":{"type":"line","interpolate":"monotone","strokeWidth":2.7},
"encoding":{
"x":{"field":"x","type":"quantitative","scale":{"domain":[0,1],"nice":false},"axis":{"title":"Overlap threshold","values":[0,0.5,1],"format":".1~f"}},
"y":{"field":"y","type":"quantitative","scale":{"domain":[0,0.85],"nice":false},"axis":{"title":"Success rate","values":[0,0.2,0.4,0.6,0.8],"format":".1~f"}},
"color":{"field":"n","type":"nominal","sort":{"field":"k","op":"min"},"scale":{"range":["#ff0000","#808080","#0000ff","#ff00ff","#ff8033","#00ffff","#ff0000","#00ff00","#0000ff","#000000","#ff00ff","#00ffff","#808080","#800000","#ff8033","#1e9be6","#9955bb"]},"legend":{"title":null,"orient":"right","offset":6,"labelFontSize":11.6,"labelFont":"Liberation Serif","labelColor":"#111111","rowPadding":0.8,"padding":3,"symbolType":"M-1,0H5.5","symbolSize":36,"symbolStrokeWidth":2.7,"labelOffset":14,"strokeColor":"#404040","fillColor":"white","encode":{"labels":{"update":{"fontWeight":{"signal":"datum.index === 0 ? 'bold' : 'normal'"}}}}}},
"strokeDash":{"field":"n","type":"nominal","sort":{"field":"k","op":"min"},"scale":{"range":[[1,0],[1,0],[1,0],[1,0],[1,0],[1,0],[8,6],[8,6],[8,6],[8,6],[8,6],[8,6],[8,6],[8,6],[8,6],[8,6],[8,6]]},"legend":{"title":null,"orient":"right","offset":6,"labelFontSize":11.6,"labelFont":"Liberation Serif","labelColor":"#111111","rowPadding":0.8,"padding":3,"symbolType":"M-1,0H5.5","symbolSize":36,"symbolStrokeWidth":2.7,"labelOffset":14,"strokeColor":"#404040","fillColor":"white","encode":{"labels":{"update":{"fontWeight":{"signal":"datum.index === 0 ? 'bold' : 'normal'"}}}}}}
}}
],"spacing":29,
"resolve":{"scale":{"color":"independent","strokeDash":"independent"},"legend":{"color":"independent","strokeDash":"independent"}},
"title":{"text":"(c)","orient":"bottom","fontSize":21,"fontWeight":"normal","anchor":"middle","offset":17,"dx":-25}}
],
"config":{
"font":"Liberation Serif",
"view":{"stroke":"#262626","strokeWidth":1},
"axis":{"labelFont":"Liberation Serif","labelFontSize":17,"labelFontWeight":"bold","labelColor":"#262626","titleFont":"Liberation Serif","titleFontSize":18,"titleFontWeight":"bold","titleColor":"#262626","gridColor":"#e3e3e3","gridWidth":1,"domainColor":"#262626","ticks":false,"labelPadding":5,"titlePadding":4,"labelFlush":false},
"axisX":{"labelPadding":4,"titlePadding":2},
"title":{"font":"Liberation Serif","fontSize":18,"fontWeight":"bold","color":"black","offset":1}
}
}
